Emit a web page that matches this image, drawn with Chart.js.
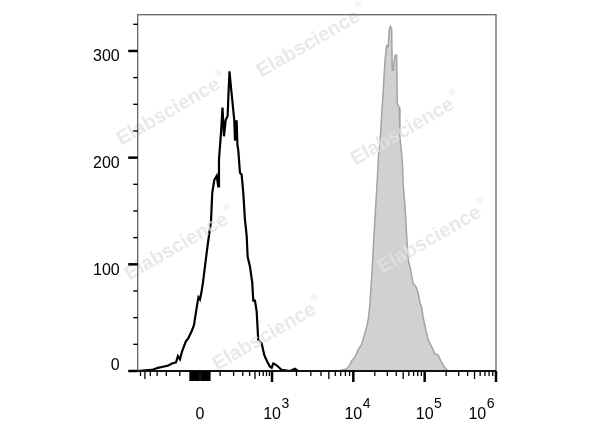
<!DOCTYPE html>
<html>
<head>
<meta charset="utf-8">
<script src="https://cdn.jsdelivr.net/npm/chart.js@4.4.0/dist/chart.umd.min.js"></script>
<style>
body { margin: 0; background: #fff; }
</style>
</head>
<body>
<canvas id="histo" width="600" height="427"></canvas>
<script>
// ------------------- data -------------------
// x positions are in display units of the biexponential axis (0 = zero, about 1 unit per decade)
const isoPos = [
    -0.871, -0.769, -0.671, -0.587, -0.517, -0.448, -0.392, -0.336, -0.308, -0.280,
    -0.252, -0.224, -0.196, -0.168, -0.140, -0.112, -0.084, -0.063, -0.042, -0.021,
    0.000, 0.021, 0.042, 0.070, 0.098, 0.126, 0.154, 0.172, 0.200, 0.234,
    0.256, 0.266, 0.294, 0.315, 0.336, 0.359, 0.387, 0.399, 0.413, 0.434,
    0.452, 0.480, 0.490, 0.513, 0.524, 0.536, 0.559, 0.583, 0.606, 0.629,
    0.653, 0.667, 0.699, 0.731, 0.746, 0.769, 0.793, 0.815, 0.863, 0.899,
    0.919, 0.947, 0.979, 1.003, 1.025, 1.059, 1.095, 1.143, 1.259, 1.329,
    1.371, 4.141
];
const isoCount = [
    0, 0.5, 1, 3, 4, 5, 7, 8, 14, 11,
    18, 23, 28, 30, 34, 38, 43, 52, 61, 69,
    67, 74, 83, 98, 113, 127, 140, 167, 179, 183,
    173, 198, 223, 247, 220, 235, 239, 260, 281, 266,
    254, 235, 216, 235, 212, 207, 186, 184, 167, 142,
    127, 107, 98, 83, 66, 66, 56, 29, 26, 15,
    12, 8, 4, 3, 7, 6, 4, 1, 0, 2,
    0, 0
];
const stainPos = [
    -0.871, 1.888, 1.958, 2.052, 2.098, 2.126, 2.168, 2.214, 2.262, 2.308,
    2.336, 2.357, 2.378, 2.402, 2.416, 2.424, 2.448, 2.480, 2.497, 2.517,
    2.541, 2.564, 2.587, 2.611, 2.633, 2.648, 2.662, 2.681, 2.690, 2.704,
    2.727, 2.751, 2.760, 2.788, 2.797, 2.821, 2.835, 2.843, 2.867, 2.891,
    2.913, 2.937, 2.983, 3.021, 3.053, 3.077, 3.101, 3.123, 3.161, 3.193,
    3.240, 3.287, 3.333, 3.380, 3.427, 3.473, 4.141
];
const stainCount = [
    0, 0, 0.5, 2, 6, 10, 13, 20, 25, 36,
    42, 50, 63, 88, 104, 115, 143, 179, 202, 212,
    240, 263, 290, 305, 304, 320, 323, 321, 282, 282,
    296, 296, 251, 247, 219, 204, 191, 174, 156, 127,
    104, 98, 82, 79, 73, 64, 60, 50, 38, 29,
    23, 16, 15, 8, 3, 0, 0
];

const yLabels = [0, 100, 200, 300];
const xDecades = [3, 4, 5, 6];
const watermarkText = 'Elabscience';

// biexponential display transform, only used to place the axis ticks
function biex(v) {
    const a = Math.abs(v), s = v < 0 ? -1 : 1;
    if (a < 1000) return s * 0.3483 * Math.asinh(a / 111);
    if (a < 1e4) return s * (1.008 + 1.137 * (Math.log10(a) - 3));
    return s * (2.145 + 0.998 * (Math.log10(a) - 4));
}

// tick list for the x axis
let xTicks = [];
for (let v = -45; v <= 45; v += 5) xTicks.push({ v: v, len: 10, w: 1.6 });
for (let k = 1; k <= 9; k++) {
    xTicks.push({ v: k * 100, len: k == 5 ? 8 : 5, w: 1.3 });
    xTicks.push({ v: -k * 100, len: k == 5 ? 8 : 5, w: 1.3 });
}
for (let d = 3; d <= 5; d++) {
    for (let k = 1; k <= 9; k++) {
        const v = k * Math.pow(10, d);
        if (k == 1) xTicks.push({ v: v, len: 11, w: 2.5 });
        else xTicks.push({ v: v, len: k == 5 ? 8 : 5, w: 1.3 });
    }
}
xTicks.push({ v: 1e6, len: 11, w: 2.5 });

const FONT = '"Liberation Sans", Arial, sans-serif';

const axisPlugin = {
    id: 'axisPlugin',
    afterDatasetsDraw(chart) {
        const ctx = chart.ctx, a = chart.chartArea;
        const xs = chart.scales.x, ys = chart.scales.y;
        ctx.save();

        // watermark
        const marks = [[312, 42], [172, 110], [406, 130], [180, 245], [433, 238], [268, 335]];
        ctx.fillStyle = 'rgba(226,226,226,0.75)';
        marks.forEach(function (m) {
            ctx.save();
            ctx.translate(m[0], m[1]);
            ctx.rotate(-30 * Math.PI / 180);
            ctx.font = 'bold 20px ' + FONT;
            const w = ctx.measureText(watermarkText).width;
            ctx.textBaseline = 'middle';
            ctx.textAlign = 'left';
            ctx.fillText(watermarkText, -w / 2 - 4, 0);
            ctx.font = 'bold 9px ' + FONT;
            ctx.fillText('\u00AE', w / 2 - 2, -9);
            ctx.restore();
        });

        // frame
        ctx.strokeStyle = '#666';
        ctx.lineWidth = 1.3;
        ctx.strokeRect(a.left, a.top, a.right - a.left, a.bottom - a.top);
        ctx.strokeStyle = '#111';
        ctx.lineWidth = 2;
        ctx.beginPath();
        ctx.moveTo(a.left, a.bottom);
        ctx.lineTo(a.right, a.bottom);
        ctx.stroke();

        // y ticks
        ctx.strokeStyle = '#000';
        for (let v = 0; v <= 325; v += 25) {
            const py = ys.getPixelForValue(v);
            const major = v % 100 == 0;
            ctx.lineWidth = major ? 2.5 : 1.4;
            ctx.beginPath();
            ctx.moveTo(a.left - (major ? 9.5 : 4.5), py);
            ctx.lineTo(a.left, py);
            ctx.stroke();
        }
        ctx.fillStyle = '#000';
        ctx.font = '16px ' + FONT;
        ctx.textAlign = 'right';
        ctx.textBaseline = 'middle';
        yLabels.forEach(function (v) {
            const py = ys.getPixelForValue(v);
            ctx.fillText(String(v), a.left - 18, v == 0 ? py - 5 : py + 6);
        });

        // x ticks
        xTicks.forEach(function (t) {
            const px = xs.getPixelForValue(biex(t.v));
            if (px < a.left - 0.5 || px > a.right + 0.5) return;
            ctx.lineWidth = t.w;
            ctx.beginPath();
            ctx.moveTo(px, a.bottom);
            ctx.lineTo(px, a.bottom + t.len);
            ctx.stroke();
        });

        // x labels
        const base = a.bottom + 48;
        ctx.textBaseline = 'alphabetic';
        ctx.textAlign = 'center';
        ctx.font = '16px ' + FONT;
        ctx.fillText('0', xs.getPixelForValue(biex(0)), base);
        ctx.textAlign = 'left';
        xDecades.forEach(function (d) {
            const px = xs.getPixelForValue(biex(Math.pow(10, d)));
            ctx.font = '16px ' + FONT;
            const bw = ctx.measureText('10').width;
            ctx.font = '14px ' + FONT;
            const ew = ctx.measureText(String(d)).width;
            let left = Math.min(px - bw / 2, a.right - bw - ew - 2);
            ctx.font = '16px ' + FONT;
            ctx.fillText('10', left, base);
            ctx.font = '14px ' + FONT;
            ctx.fillText(String(d), left + bw + 0.5, base - 11);
        });

        ctx.restore();
    }
};

const histo = new Chart(document.querySelector('#histo'), {
    type: 'line',
    data: {
        datasets: [{
            label: 'isotype',
            data: isoPos.map(function (x, i) { return { x: x, y: isoCount[i] }; }),
            borderColor: '#000',
            borderWidth: 2.2,
            pointRadius: 0,
            fill: false,
            tension: 0
        }, {
            label: 'stained',
            data: stainPos.map(function (x, i) { return { x: x, y: stainCount[i] }; }),
            borderColor: '#a3a3a3',
            backgroundColor: '#d1d1d1',
            borderWidth: 1.5,
            pointRadius: 0,
            fill: 'origin',
            tension: 0
        }]
    },
    options: {
        responsive: false,
        animation: false,
        layout: { padding: { left: 137.7, right: 104, top: 14.7, bottom: 56 } },
        plugins: { legend: { display: false }, tooltip: { enabled: false } },
        scales: {
            x: { type: 'linear', min: biex(-672), max: biex(1e6), display: false },
            y: { min: 0, max: 334, display: false }
        }
    },
    plugins: [axisPlugin]
});
</script>
</body>
</html>
